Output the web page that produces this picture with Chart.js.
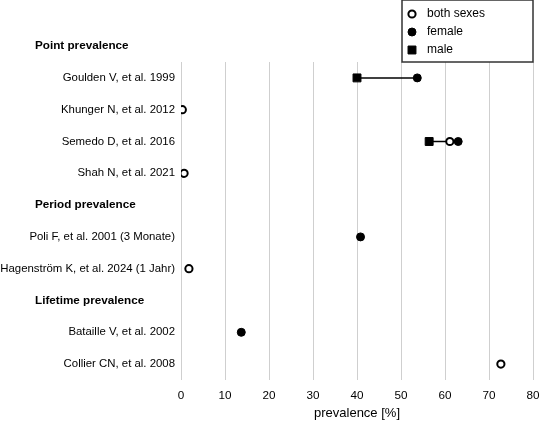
<!DOCTYPE html>
<html>
<head>
<meta charset="utf-8">
<script src="https://cdn.jsdelivr.net/npm/chart.js@4/dist/chart.umd.min.js"></script>
<style>
  html, body { margin: 0; padding: 0; background: #fff; }
  canvas { display: block; }
</style>
</head>
<body>
<canvas id="c" width="540" height="422"></canvas>
<script>
// ---- data ----
const categories = [
  "Point prevalence",
  "Goulden V, et al. 1999",
  "Khunger N, et al. 2012",
  "Semedo D, et al. 2016",
  "Shah N, et al. 2021",
  "Period prevalence",
  "Poli F, et al. 2001 (3 Monate)",
  "Hagenström K, et al. 2024 (1 Jahr)",
  "Lifetime prevalence",
  "Bataille V, et al. 2002",
  "Collier CN, et al. 2008"
];
const headerRows = ["Point prevalence", "Period prevalence", "Lifetime prevalence"];
const bothSexes = [null, null, 0.3, 61.1, 0.7, null, null, 1.8, null, null, 72.7];
const female    = [null, 53.7, null, 63.0, null, null, 40.8, null, null, 13.7, null];
const male      = [null, 40.0, null, 56.4, null, null, null, null, null, null, null];
const seriesLabels = ["both sexes", "female", "male"];
const axisTitle = "prevalence [%]";

// ---- build datasets ----
const FONT = "'Liberation Sans', Arial, sans-serif";
const FS = 11.7;
const toPoints = arr => arr.map((v, i) => v == null ? null : { x: v, y: categories[i] }).filter(p => p);

const markerDatasets = [
  { label: seriesLabels[0], data: toPoints(bothSexes), pointStyle: 'circle', pointRadius: 3.6,
    backgroundColor: '#ffffff', borderColor: '#000000', borderWidth: 2 },
  { label: seriesLabels[1], data: toPoints(female), pointStyle: 'circle', pointRadius: 4,
    backgroundColor: '#000000', borderColor: '#000000', borderWidth: 1 },
  { label: seriesLabels[2], data: toPoints(male), pointStyle: 'rect', pointRadius: 5.6,
    backgroundColor: '#000000', borderColor: '#000000', borderWidth: 1 }
];

const rangeDatasets = [];
categories.forEach((c, i) => {
  const vals = [bothSexes[i], female[i], male[i]].filter(v => v != null);
  if (vals.length > 1) {
    rangeDatasets.push({
      label: '_range', data: [{ x: Math.min(...vals), y: c }, { x: Math.max(...vals), y: c }],
      showLine: true, pointRadius: 0, borderColor: '#000000', borderWidth: 1.5, backgroundColor: '#000'
    });
  }
});

// ---- plugins ----
const headerPlugin = {
  id: 'headers',
  afterDraw(chart) {
    const ctx = chart.ctx, ys = chart.scales.y;
    ctx.save();
    ctx.font = "bold " + FS + "px " + FONT;
    ctx.fillStyle = '#000';
    ctx.textAlign = 'left';
    ctx.textBaseline = 'middle';
    headerRows.forEach(h => {
      const idx = categories.indexOf(h);
      ctx.fillText(h, 35, ys.getPixelForValue(idx));
    });
    ctx.restore();
  }
};

const boxLegendPlugin = {
  id: 'boxLegend',
  afterDraw(chart) {
    const ctx = chart.ctx;
    const left = 402, top = 0, right = 533, bottom = 62;
    ctx.save();
    ctx.strokeStyle = '#333';
    ctx.lineWidth = 1.5;
    ctx.strokeRect(left, top, right - left, bottom - top);
    ctx.font = "12px " + FONT;
    ctx.textAlign = 'left';
    ctx.textBaseline = 'middle';
    chart.data.datasets.forEach((ds, i) => {
      if (ds.label === '_range') return;
      const y = 14 + i * 18;
      ctx.fillStyle = ds.backgroundColor;
      ctx.strokeStyle = ds.borderColor;
      ctx.lineWidth = ds.borderWidth;
      Chart.helpers.drawPoint(ctx, { pointStyle: ds.pointStyle, radius: ds.pointRadius, rotation: 0, borderWidth: ds.borderWidth }, 412, y);
      ctx.fillStyle = '#000';
      ctx.fillText(ds.label, 427, y);
    });
    ctx.restore();
  }
};

new Chart(document.getElementById('c'), {
  type: 'scatter',
  data: { datasets: [...markerDatasets, ...rangeDatasets] },
  options: {
    responsive: false,
    animation: false,
    layout: { padding: { top: 62, right: 7, left: 0, bottom: 0 } },
    plugins: { legend: { display: false }, tooltip: { enabled: false } },
    scales: {
      x: {
        type: 'linear', min: 0, max: 80,
        ticks: { stepSize: 10, color: '#000', font: { family: FONT, size: FS }, padding: 9 },
        grid: { color: '#cfcfcf', lineWidth: 1, drawTicks: false },
        border: { display: false },
        title: { display: true, text: axisTitle, color: '#000', font: { family: FONT, size: 13 }, padding: { top: 2, bottom: 1 } },
        afterFit(scale) { scale.height = 42; scale.paddingRight = 0; scale.paddingLeft = 0; }
      },
      y: {
        type: 'category', labels: categories, min: categories[1], offset: true,
        ticks: {
          color: '#000', font: { family: FONT, size: 11.4 }, padding: 6,
          callback(val) { const l = this.getLabelForValue(val); return headerRows.includes(l) ? '' : l; }
        },
        grid: { display: false, drawTicks: false },
        border: { display: false },
        afterFit(scale) { scale.width = 181; }
      }
    }
  },
  plugins: [headerPlugin, boxLegendPlugin]
});
</script>
</body>
</html>
